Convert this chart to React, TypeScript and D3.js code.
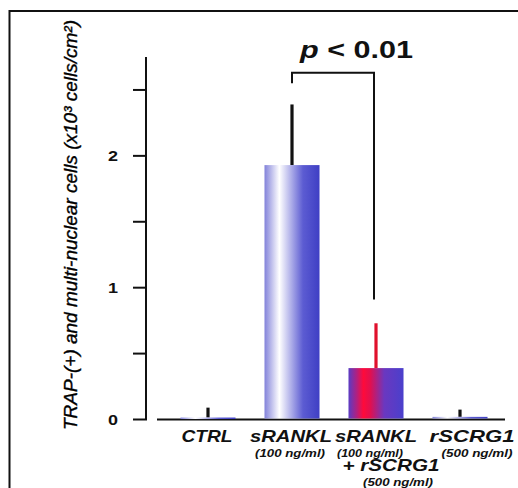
import React, { useRef, useEffect } from "react";
import * as d3 from "d3";

const categories = ["CTRL", "sRANKL", "sRANKL+rSCRG1", "rSCRG1"];
const means = [0.015, 1.93, 0.39, 0.02];
const errors = [0.075, 0.46, 0.34, 0.055];
const fills = ["blue", "blue", "red", "blue"];
const errColors = ["#111", "#111", "#e0102c", "#111"];
const labelLines = [
    ["CTRL"],
    ["sRANKL", "(100 ng/ml)"],
    ["sRANKL", "(100 ng/ml)", "+ rSCRG1", "(500 ng/ml)"],
    ["rSCRG1", "(500 ng/ml)"],
];
const yTicks = [0, 0.5, 1, 1.5, 2, 2.5];
const yTickLabels = ["0", "", "1", "", "2", ""];
// bracket heights in data units: top, left foot, right foot
const bracket = [2.63, 2.55, 0.91];
const pText = "0.01";

const W = 518;
const H = 488;

const App = () => {
    const svgRef = useRef<SVGSVGElement>(null);

    useEffect(() => {
        const svg = d3.select(svgRef.current);
        svg.selectAll("*").remove();

        const yScale = d3.scaleLinear().domain([0, 2.75]).range([419.5, 57]);
        const xScale = d3.scaleBand()
            .domain(categories)
            .range([166, 502])
            .paddingInner(0.345)
            .paddingOuter(0.1725);
        const cx = (c: string) => (xScale(c) as number) + xScale.bandwidth() / 2;

        svg.append("rect").attr("width", W).attr("height", H).attr("fill", "#fff");

        // frame
        svg.append("rect")
            .attr("x", 9.5).attr("y", 11)
            .attr("width", 530).attr("height", 500)
            .attr("fill", "none").attr("stroke", "#111").attr("stroke-width", 2);

        // gradients
        const defs = svg.append("defs");
        const blue = defs.append("linearGradient").attr("id", "blue");
        [[0, "#8282da"], [0.27, "#ffffff"], [0.7, "#5c5cd2"], [1, "#3f3fc4"]].forEach(([o, c]) =>
            blue.append("stop").attr("offset", o as number).attr("stop-color", c as string));
        const red = defs.append("linearGradient").attr("id", "red");
        [[0, "#5a3cc4"], [0.15, "#b02080"], [0.27, "#ff0a3a"], [0.4, "#e01050"], [0.65, "#6a38c0"], [1, "#4a40cc"]].forEach(([o, c]) =>
            red.append("stop").attr("offset", o as number).attr("stop-color", c as string));

        // y axis
        const y0 = yScale(0);
        svg.append("line")
            .attr("x1", 146).attr("x2", 146)
            .attr("y1", yScale(2.75)).attr("y2", y0)
            .attr("stroke", "#111").attr("stroke-width", 2);
        svg.selectAll(".ytick")
            .data(yTicks)
            .enter()
            .append("line")
            .attr("x1", 133).attr("x2", 147)
            .attr("y1", d => yScale(d)).attr("y2", d => yScale(d))
            .attr("stroke", "#111").attr("stroke-width", 2);
        svg.selectAll(".ylab")
            .data(yTicks)
            .enter()
            .append("text")
            .attr("x", 108)
            .attr("y", d => yScale(d) + 5.5)
            .attr("textLength", 10)
            .attr("lengthAdjust", "spacingAndGlyphs")
            .style("font-family", "Liberation Sans, Arial, sans-serif")
            .style("font-size", "15px")
            .style("font-weight", "bold")
            .attr("fill", "#111")
            .text((d, i) => yTickLabels[i]);

        // x axis
        svg.append("line")
            .attr("x1", 157).attr("x2", 505)
            .attr("y1", y0).attr("y2", y0)
            .attr("stroke", "#111").attr("stroke-width", 2);

        // error bars (upper only)
        svg.selectAll(".err")
            .data(categories)
            .enter()
            .append("line")
            .attr("x1", d => cx(d)).attr("x2", d => cx(d))
            .attr("y1", (d, i) => yScale(means[i]))
            .attr("y2", (d, i) => yScale(means[i] + errors[i]))
            .attr("stroke", (d, i) => errColors[i])
            .attr("stroke-width", 3.2);

        // bars
        svg.selectAll(".bar")
            .data(categories)
            .enter()
            .append("rect")
            .attr("x", d => xScale(d) as number)
            .attr("y", (d, i) => yScale(means[i]))
            .attr("width", xScale.bandwidth())
            .attr("height", (d, i) => Math.max(1.5, y0 - 1 - yScale(means[i])))
            .attr("fill", (d, i) => `url(#${fills[i]})`);

        // significance bracket
        const xl = cx(categories[1]);
        const xr = cx(categories[2]) - 2;
        svg.append("path")
            .attr("d", `M${xl},${yScale(bracket[1])}V${yScale(bracket[0])}H${xr}V${yScale(bracket[2])}`)
            .attr("fill", "none").attr("stroke", "#111").attr("stroke-width", 2);

        const pt = svg.append("text")
            .attr("x", 300).attr("y", 58)
            .attr("textLength", 113)
            .attr("lengthAdjust", "spacingAndGlyphs")
            .style("font-family", "Liberation Sans, Arial, sans-serif")
            .style("font-size", "23px")
            .style("font-weight", "bold")
            .attr("fill", "#111");
        pt.append("tspan").style("font-style", "italic").text("p");
        pt.append("tspan").text(` < ${pText}`);

        // category labels
        const lineY = [442, 456.5, 470.5, 485.5];
        const dx = [[-1], [-1, -2], [0, -6, 15, 22], [12, 17]];
        const widths = [[51], [82, 70], [82, 66, 97, 70], [85, 71]];
        labelLines.forEach((lines, i) => {
            const g = svg.append("g");
            lines.forEach((t, j) => {
                const big = j === 0 || t.startsWith("+");
                g.append("text")
                    .attr("x", cx(categories[i]) + dx[i][j] - widths[i][j] / 2)
                    .attr("y", lineY[j])
                    .attr("textLength", widths[i][j])
                    .attr("lengthAdjust", "spacingAndGlyphs")
                    .style("font-family", "Liberation Sans, Arial, sans-serif")
                    .style("font-size", big ? "17px" : "11px")
                    .style("font-weight", "bold")
                    .style("font-style", "italic")
                    .attr("fill", "#111")
                    .text(t);
            });
        });

        // y axis title
        svg.append("text")
            .attr("transform", "translate(77,225) rotate(-90)")
            .attr("text-anchor", "middle")
            .attr("textLength", 410)
            .attr("lengthAdjust", "spacingAndGlyphs")
            .style("font-family", "Liberation Sans Narrow, Arial Narrow, sans-serif")
            .style("font-size", "19px")
            .style("font-style", "italic")
            .attr("fill", "#000")
            .attr("stroke", "#000")
            .attr("stroke-width", 0.35)
            .text("TRAP-(+) and multi-nuclear cells  (x10³ cells/cm²)");
    }, []);

    return (
        <div style={{ position: "absolute", left: 0, top: 0 }}>
            <svg ref={svgRef} width={W} height={H} style={{ display: "block" }}></svg>
        </div>
    );
};

export default App;
